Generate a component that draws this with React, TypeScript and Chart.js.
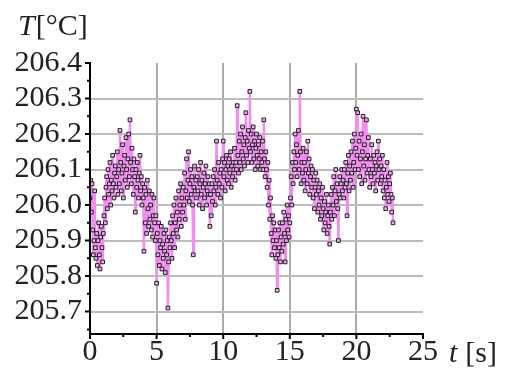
import { useEffect, useRef } from "react";
import { Chart, registerables } from "chart.js";

Chart.register(...registerables);

// sampling grid of the measurement (seconds)
const SAMPLE_START = 0;
const SAMPLE_STEP = 0.05;

// temperature readings [°C], 20 samples per second
const TEMP_0_6 = [
  206.02, 206.07, 205.98, 206.06, 205.93, 205.86, 205.9, 206.04, 205.88, 205.85, 205.92, 205.83, 205.9, 205.95, 205.86, 205.82, 205.91, 205.94, 205.88, 205.84,
  205.92, 205.97, 206.02, 205.95, 206.05, 206.08, 205.99, 206.1, 206.03, 206.06, 206.12, 206.0, 206.07, 206.04, 206.14, 206.06, 206.02, 206.09, 206.11, 206.05,
  206.08, 206.15, 206.03, 206.1, 206.06, 206.21, 206.12, 206.04, 206.09, 206.17, 206.02, 206.11, 206.14, 206.07, 206.19, 206.1, 206.05, 206.13, 206.2, 206.08,
  206.24, 206.12, 206.06, 206.16, 206.1, 206.03, 206.13, 206.08, 205.98, 206.1, 206.05, 206.12, 206.07, 206.02, 206.09, 206.14, 206.04, 206.08, 206.0, 206.06,
  206.02, 205.87, 206.05, 205.95, 206.03, 205.92, 206.07, 205.99, 205.94, 206.04, 205.96, 206.0, 205.93, 206.03, 205.91, 205.97, 206.02, 205.95, 205.9, 205.97,
  205.78, 205.92, 205.86, 205.95, 205.83, 205.9, 205.88, 205.94, 205.82, 205.89, 205.85, 205.92, 205.87, 205.81, 205.93, 205.86, 205.9, 205.71, 205.84, 205.91,
];
const TEMP_6_12 = [
  205.88, 205.95, 205.9, 205.85, 205.97, 205.92, 206.0, 205.88, 205.95, 206.02, 205.93, 205.98, 205.91, 206.04, 205.96, 206.0, 206.06, 205.94, 206.02, 205.98,
  206.05, 206.0, 206.09, 205.96, 206.04, 206.13, 206.02, 206.07, 206.15, 206.01, 206.06, 206.1, 206.03, 206.08, 206.0, 205.86, 206.05, 206.11, 206.04, 206.07,
  206.02, 206.08, 206.04, 206.1, 206.0, 206.06, 206.12, 206.03, 206.07, 205.99, 206.05, 206.09, 206.02, 206.06, 206.11, 206.0, 206.04, 206.08, 206.03, 206.06,
  205.94, 206.03, 205.97, 206.06, 206.01, 206.08, 206.04, 206.1, 206.0, 206.05, 206.18, 206.07, 206.03, 206.12, 206.06, 206.09, 206.02, 206.1, 206.05, 206.13,
  206.18, 206.08, 206.12, 206.04, 206.1, 206.14, 206.07, 206.11, 206.06, 206.13, 206.09, 206.15, 206.05, 206.11, 206.08, 206.12, 206.1, 206.16, 206.07, 206.12,
  206.1, 206.28, 206.14, 206.09, 206.18, 206.12, 206.2, 206.1, 206.15, 206.22, 206.13, 206.17, 206.11, 206.19, 206.26, 206.14, 206.18, 206.12, 206.21, 206.16,
];
const TEMP_12_18 = [
  206.32, 206.15, 206.2, 206.12, 206.17, 206.22, 206.13, 206.18, 206.1, 206.16, 206.2, 206.14, 206.11, 206.17, 206.13, 206.19, 206.1, 206.15, 206.12, 206.18,
  206.1, 206.24, 206.13, 206.08, 206.15, 206.1, 206.05, 206.12, 206.0, 206.07, 205.96, 206.02, 205.92, 205.86, 205.97, 205.9, 205.95, 205.88, 205.93, 205.85,
  205.9, 205.76, 205.86, 205.93, 205.88, 205.95, 205.84, 205.91, 205.87, 205.95, 205.89, 205.98, 205.92, 205.84, 205.96, 205.9, 206.0, 205.93, 205.97, 205.91,
  205.95, 206.02, 206.08, 206.0, 206.12, 206.06, 206.15, 206.1, 206.2, 206.12, 206.17, 206.08, 206.14, 206.21, 206.1, 206.32, 206.15, 206.06, 206.12, 206.09,
  206.16, 206.07, 206.12, 206.04, 206.1, 206.15, 206.06, 206.18, 206.09, 206.13, 206.03, 206.08, 206.11, 206.05, 206.1, 206.02, 206.07, 205.99, 206.05, 206.09,
  206.03, 206.07, 205.98, 206.04, 206.0, 206.06, 205.96, 206.02, 205.97, 206.05, 205.99, 205.93, 206.01, 205.95, 205.98, 206.03, 205.92, 205.97, 206.0, 205.94,
];
const TEMP_18_23 = [
  205.89, 205.98, 206.03, 205.96, 206.05, 206.0, 206.08, 205.97, 206.04, 206.1, 206.01, 206.06, 205.99, 205.9, 206.03, 206.08, 206.02, 206.06, 206.1, 206.04,
  206.07, 206.02, 206.1, 206.05, 206.12, 206.06, 205.97, 206.09, 206.14, 206.04, 206.11, 206.07, 206.15, 206.09, 206.18, 206.05, 206.12, 206.2, 206.1, 206.16,
  206.27, 206.14, 206.26, 206.1, 206.18, 206.08, 206.13, 206.2, 206.06, 206.15, 206.25, 206.11, 206.17, 206.07, 206.13, 206.24, 206.09, 206.14, 206.19, 206.1,
  206.05, 206.13, 206.08, 206.17, 206.1, 206.06, 206.14, 206.09, 206.12, 206.04, 206.11, 206.15, 206.07, 206.18, 206.1, 206.13, 206.06, 206.11, 206.08, 206.14,
  206.04, 206.1, 206.02, 206.07, 205.99, 206.05, 206.12, 206.03, 206.08, 206.01, 206.06, 206.09, 206.03, 205.98, 206.02, 205.95,
];
const TEMPERATURES = [...TEMP_0_6, ...TEMP_6_12, ...TEMP_12_18, ...TEMP_18_23];

const X_TICKS = [0, 5, 10, 15, 20, 25];
const X_MINOR_TICKS = [2.5, 7.5, 12.5, 17.5, 22.5];
const Y_TICKS = [205.7, 205.8, 205.9, 206.0, 206.1, 206.2, 206.3, 206.4];
const Y_MINOR_TICKS = [205.65, 205.75, 205.85, 205.95, 206.05, 206.15, 206.25, 206.35];
const X_MIN = 0;
const X_MAX = 25;
const Y_MIN = 205.637;
const Y_MAX = 206.4;

const Y_TITLE_SYMBOL = "T";
const Y_TITLE_UNIT = "[°C]";
const X_TITLE_SYMBOL = "t";
const X_TITLE_UNIT = "[s]";

const FONT = '"Liberation Serif", "Times New Roman", serif';
const TEXT_COLOR = "#222";

const decorPlugin = {
  id: "decor",
  afterDraw(chart: any) {
    const { ctx, chartArea: a, scales } = chart;
    const xs = scales.x;
    const ys = scales.y;
    ctx.save();
    ctx.strokeStyle = "#000";
    ctx.lineWidth = 2;
    ctx.lineCap = "butt";
    ctx.beginPath();
    ctx.moveTo(a.left, a.top - 1);
    ctx.lineTo(a.left, a.bottom);
    ctx.moveTo(a.left - 1, a.bottom);
    ctx.lineTo(a.right + 1, a.bottom);
    for (const v of X_TICKS) {
      const p = xs.getPixelForValue(v);
      ctx.moveTo(p, a.bottom);
      ctx.lineTo(p, a.bottom + 5);
    }
    for (const v of X_MINOR_TICKS) {
      const p = xs.getPixelForValue(v);
      ctx.moveTo(p, a.bottom);
      ctx.lineTo(p, a.bottom + 3);
    }
    for (const v of Y_TICKS) {
      const p = ys.getPixelForValue(v);
      ctx.moveTo(a.left, p);
      ctx.lineTo(a.left - 5, p);
    }
    for (const v of Y_MINOR_TICKS) {
      const p = ys.getPixelForValue(v);
      ctx.moveTo(a.left, p);
      ctx.lineTo(a.left - 3, p);
    }
    ctx.stroke();

    ctx.fillStyle = TEXT_COLOR;
    ctx.textBaseline = "alphabetic";
    ctx.textAlign = "left";
    // y title
    let tx = a.left - 72;
    const ty = a.top - 28;
    ctx.font = `italic 30px ${FONT}`;
    ctx.fillText(Y_TITLE_SYMBOL, tx, ty);
    tx += ctx.measureText(Y_TITLE_SYMBOL).width + 1;
    ctx.font = `30px ${FONT}`;
    ctx.fillText(Y_TITLE_UNIT, tx, ty);
    // x title
    let bx = a.right + 26;
    const by = a.bottom + 28;
    ctx.font = `italic 30px ${FONT}`;
    ctx.fillText(X_TITLE_SYMBOL, bx, by);
    bx += ctx.measureText(X_TITLE_SYMBOL).width + 8;
    ctx.font = `30px ${FONT}`;
    ctx.fillText(X_TITLE_UNIT, bx, by);
    ctx.restore();
  },
};

export default function App() {
  const canvasRef = useRef<HTMLCanvasElement | null>(null);

  useEffect(() => {
    document.body.style.margin = "0";
    const canvas = canvasRef.current;
    if (!canvas) return;
    const points = TEMPERATURES.map((v, i) => ({ x: SAMPLE_START + i * SAMPLE_STEP, y: v }));
    const chart = new Chart(canvas, {
      type: "scatter",
      data: {
        datasets: [
          {
            data: points,
            showLine: true,
            borderColor: "#f08ef0",
            borderWidth: 2.5,
            pointStyle: "rect",
            pointRadius: 2.6,
            pointBorderWidth: 1,
            pointBorderColor: "#2a1a2a",
            pointBackgroundColor: "#e8b4e8",
            tension: 0,
          },
        ],
      },
      options: {
        responsive: false,
        animation: false,
        devicePixelRatio: 1,
        layout: { padding: { left: 0, top: 63, right: 84, bottom: 0 } },
        plugins: { legend: { display: false }, tooltip: { enabled: false } },
        scales: {
          x: {
            type: "linear",
            min: X_MIN,
            max: X_MAX,
            afterBuildTicks: (s: any) => {
              s.ticks = X_TICKS.map((v) => ({ value: v }));
            },
            afterFit: (s: any) => {
              s.height = 37;
            },
            border: { display: false },
            grid: {
              drawTicks: false,
              lineWidth: 2,
              color: (c: any) =>
                c.tick && (c.tick.value === X_MIN || c.tick.value === X_MAX) ? "rgba(0,0,0,0)" : "#acacac",
            },
            ticks: {
              autoSkip: false,
              padding: 0,
              color: TEXT_COLOR,
              font: { family: FONT, size: 30 },
              maxRotation: 0,
              callback: (v: any) => String(v),
            },
          },
          y: {
            type: "linear",
            min: Y_MIN,
            max: Y_MAX,
            afterBuildTicks: (s: any) => {
              s.ticks = Y_TICKS.map((v) => ({ value: v }));
            },
            afterFit: (s: any) => {
              s.width = 90;
            },
            border: { display: false },
            grid: {
              drawTicks: false,
              lineWidth: 2,
              color: (c: any) => (c.tick && Math.abs(c.tick.value - Y_MAX) < 1e-6 ? "rgba(0,0,0,0)" : "#bcbcbc"),
            },
            ticks: {
              autoSkip: false,
              padding: 8,
              color: TEXT_COLOR,
              font: { family: FONT, size: 30 },
              callback: (v: any) => Number(v).toFixed(1),
            },
          },
        },
      },
      plugins: [decorPlugin],
    });
    return () => chart.destroy();
  }, []);

  return (
    <div style={{ width: 507, height: 371, background: "#fff" }}>
      <canvas ref={canvasRef} width={507} height={371} style={{ width: 507, height: 371, display: "block" }} />
    </div>
  );
}
